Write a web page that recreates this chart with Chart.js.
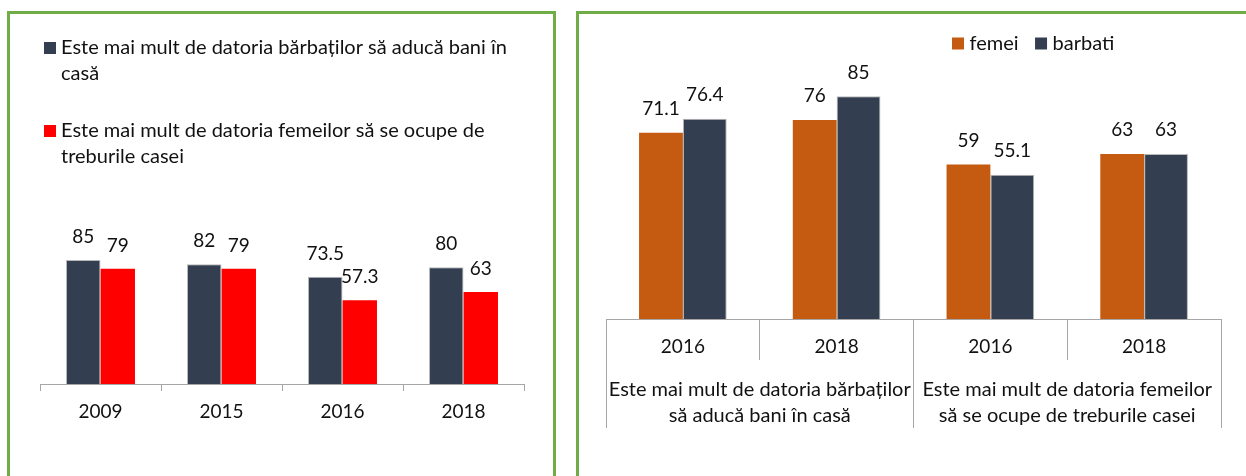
<!DOCTYPE html>
<html><head><meta charset="utf-8">
<script src="https://cdn.jsdelivr.net/npm/chart.js@4.4.1/dist/chart.umd.min.js"></script>
<style>
html,body{margin:0;padding:0;background:#fff;width:1246px;height:476px;overflow:hidden}
body{position:relative}
.panel{position:absolute;border:3px solid #70AD47;box-sizing:border-box}
#p1{left:7px;top:11px;width:549px;height:520px}
#p2{left:576px;top:11px;width:720px;height:520px}
canvas{position:absolute;top:0}
#c1{left:0}
#c2{left:560px}
</style></head><body>
<div class="panel" id="p1"></div><div class="panel" id="p2"></div>
<canvas id="c1" width="560" height="476"></canvas>
<canvas id="c2" width="686" height="476"></canvas>
<script>
// ---- data ----
const leftCategories = ['2009', '2015', '2016', '2018'];
const leftSeriesNames = ['Este mai mult de datoria bărbaților să aducă bani în casă',
                         'Este mai mult de datoria femeilor să se ocupe de treburile casei'];
const leftMen = [85, 82, 73.5, 80];
const leftWomen = [79, 79, 57.3, 63];

const rightYears = ['2016', '2018', '2016', '2018'];
const rightGroups = [['Este mai mult de datoria bărbaților', 'să aducă bani în casă'],
                     ['Este mai mult de datoria femeilor', 'să se ocupe de treburile casei']];
const rightSeriesNames = ['femei', 'barbati'];
const rightFemei = [71.1, 76, 59, 63];
const rightBarbati = [76.4, 85, 55.1, 63];

// ---- style ----
const FONT = 'Lato, "Open Sans", sans-serif';
const TEXT = '#111111';
const DARK = '#333F50';
const RED = '#FF0000';
const ORANGE = '#C55A11';
const LINE = '#A6A6A6';

function wrap(ctx, text, maxW) {
  const words = text.split(' ');
  const lines = [];
  let cur = '';
  for (const w of words) {
    const t = cur ? cur + ' ' + w : w;
    if (ctx.measureText(t).width > maxW && cur) { lines.push(cur); cur = w; }
    else cur = t;
  }
  if (cur) lines.push(cur);
  return lines;
}

const valueLabels = {
  id: 'valueLabels',
  afterDatasetsDraw(chart, args, o) {
    const ctx = chart.ctx;
    ctx.save();
    ctx.font = o.size + 'px ' + FONT;
    ctx.fillStyle = TEXT;
    ctx.textAlign = 'center';
    ctx.textBaseline = 'alphabetic';
    chart.data.datasets.forEach((ds, i) => {
      chart.getDatasetMeta(i).data.forEach((el, j) => {
        ctx.fillText(String(ds.data[j]), el.x, el.y - o.gap);
      });
    });
    ctx.restore();
  }
};

const boxLegend = {
  id: 'boxLegend',
  afterDraw(chart, args, o) {
    const ctx = chart.ctx;
    ctx.save();
    ctx.font = o.size + 'px ' + FONT;
    ctx.textBaseline = 'alphabetic';
    ctx.textAlign = 'left';
    const lh = o.lineHeight || 0;
    let x = o.x, y = o.y;
    chart.data.datasets.forEach(ds => {
      const lines = o.vertical ? wrap(ctx, ds.label, o.maxWidth) : [ds.label];
      ctx.fillStyle = ds.backgroundColor;
      ctx.fillRect(x, y - o.box, o.box, o.box);
      ctx.fillStyle = TEXT;
      lines.forEach((ln, k) => ctx.fillText(ln, x + o.box + o.textGap, y + k * lh));
      if (o.vertical) y += (lines.length - 1) * lh + o.itemGap;
      else x += o.box + o.textGap + ctx.measureText(ds.label).width + o.itemGap;
    });
    ctx.restore();
  }
};

Chart.defaults.font.family = FONT;
Chart.defaults.color = TEXT;

// ---- left chart ----
new Chart(document.getElementById('c1'), {
  type: 'bar',
  data: {
    labels: leftCategories,
    datasets: [
      { label: leftSeriesNames[0], data: leftMen, backgroundColor: DARK,
        borderColor: '#B8B8B8', borderWidth: {top: 1, left: 1, right: 1, bottom: 0}, borderSkipped: 'bottom' },
      { label: leftSeriesNames[1], data: leftWomen, backgroundColor: RED }
    ]
  },
  options: {
    responsive: false, animation: false,
    layout: { padding: { left: 40, right: 36, top: 238, bottom: 52 } },
    datasets: { bar: { categoryPercentage: 0.57, barPercentage: 1.0 } },
    plugins: {
      legend: { display: false }, tooltip: { enabled: false },
      valueLabels: { size: 19, gap: 17 },
      boxLegend: { vertical: true, x: 44, y: 54, box: 12, textGap: 5, size: 20,
                   maxWidth: 470, lineHeight: 26, itemGap: 57 }
    },
    scales: {
      x: {
        offset: true,
        grid: { offset: true, drawOnChartArea: false, tickLength: 7, tickColor: LINE, tickWidth: 1 },
        border: { display: true, color: LINE, width: 1 },
        ticks: { font: { size: 19 }, color: TEXT, padding: 9, maxRotation: 0, autoSkip: false },
        afterFit: s => { s.height = 40; }
      },
      y: { display: false, min: 0, max: 100 }
    }
  },
  plugins: [valueLabels, boxLegend]
});

// ---- right chart ----
new Chart(document.getElementById('c2'), {
  type: 'bar',
  data: {
    labels: rightYears,
    datasets: [
      { label: rightSeriesNames[0], data: rightFemei, backgroundColor: ORANGE },
      { label: rightSeriesNames[1], data: rightBarbati, backgroundColor: DARK,
        borderColor: '#B8B8B8', borderWidth: {top: 1, left: 1, right: 1, bottom: 0}, borderSkipped: 'bottom' }
    ]
  },
  options: {
    responsive: false, animation: false,
    layout: { padding: { left: 46, right: 25, top: 57, bottom: 48 } },
    datasets: { bar: { categoryPercentage: 0.57, barPercentage: 1.0 } },
    plugins: {
      legend: { display: false }, tooltip: { enabled: false },
      valueLabels: { size: 19, gap: 17.5 },
      boxLegend: { vertical: false, x: 392, y: 49.5, box: 12, textGap: 5.5, size: 20, itemGap: 16.5 }
    },
    scales: {
      x: {
        weight: 0, offset: true,
        grid: { offset: true, drawOnChartArea: false, tickLength: 41, tickColor: LINE, tickWidth: 1 },
        border: { display: true, color: LINE, width: 1 },
        ticks: { font: { size: 19 }, color: TEXT, padding: -25, maxRotation: 0, autoSkip: false },
        afterFit: s => { s.height = 41; }
      },
      x2: {
        type: 'category', position: 'bottom', weight: 1, labels: rightGroups, offset: true,
        grid: { offset: true, drawOnChartArea: false, tickLength: 68, tickColor: LINE, tickWidth: 1 },
        border: { display: false },
        ticks: { font: { size: 20, lineHeight: 1.33 }, color: TEXT, padding: -52, maxRotation: 0, autoSkip: false },
        afterFit: s => { s.height = 68; }
      },
      y: { display: false, min: 0, max: 100 }
    }
  },
  plugins: [valueLabels, boxLegend]
});
</script>
</body></html>
